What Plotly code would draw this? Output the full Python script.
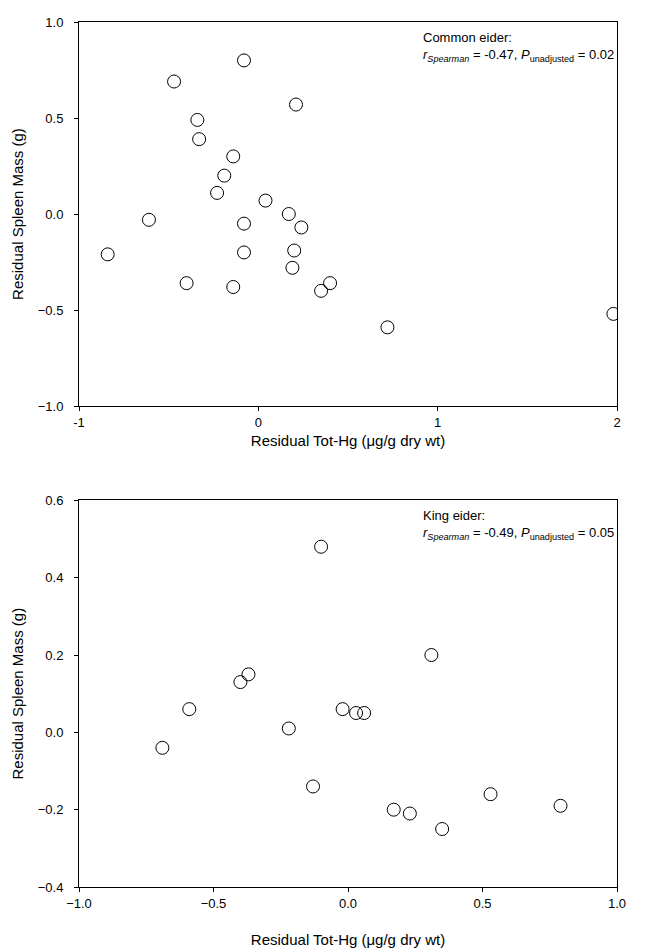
import plotly.graph_objects as go

# Common eider (top panel)
common_hg = [-0.84, -0.61, -0.47, -0.40, -0.34, -0.33, -0.19, -0.23, -0.14, -0.14, -0.08,
             -0.08, -0.08, 0.04, 0.17, 0.24, 0.21, 0.20, 0.19, 0.35, 0.40, 0.72, 1.98]
common_spleen = [-0.21, -0.03, 0.69, -0.36, 0.49, 0.39, 0.20, 0.11, 0.30, -0.38, 0.80,
                 -0.05, -0.20, 0.07, 0.00, -0.07, 0.57, -0.19, -0.28, -0.40, -0.36, -0.59, -0.52]

# King eider (bottom panel)
king_hg = [-0.69, -0.59, -0.40, -0.37, -0.22, -0.13, -0.10, -0.02, 0.03, 0.06,
           0.17, 0.23, 0.31, 0.35, 0.53, 0.79]
king_spleen = [-0.04, 0.06, 0.13, 0.15, 0.01, -0.14, 0.48, 0.06, 0.05, 0.05,
               -0.20, -0.21, 0.20, -0.25, -0.16, -0.19]

top_xticks = [-1, 0, 1, 2]
top_yticks = [-1.0, -0.5, 0.0, 0.5, 1.0]
bot_xticks = [-1.0, -0.5, 0.0, 0.5, 1.0]
bot_yticks = [-0.4, -0.2, 0.0, 0.2, 0.4, 0.6]

x_title = "Residual Tot-Hg (μg/g dry wt)"
y_title = "Residual Spleen Mass (g)"

FONT = "Liberation Sans, Arial, sans-serif"

fig = go.Figure()
marker = dict(symbol="circle-open", size=13, color="black", line=dict(width=1, color="black"))
fig.add_trace(go.Scatter(x=common_hg, y=common_spleen, mode="markers", marker=marker,
                         xaxis="x", yaxis="y", showlegend=False))
fig.add_trace(go.Scatter(x=king_hg, y=king_spleen, mode="markers", marker=marker,
                         xaxis="x2", yaxis="y2", showlegend=False))

axis_common = dict(showline=True, linecolor="black", linewidth=1, mirror=True,
                   ticks="outside", ticklen=4, tickcolor="black", showgrid=False,
                   zeroline=False, tickfont=dict(size=13, color="black", family=FONT),
                   title_font=dict(size=15, color="black", family=FONT))

fig.update_layout(
    width=645, height=952,
    margin=dict(l=71, r=36, t=7, b=73),
    paper_bgcolor="white", plot_bgcolor="white",
    font=dict(family=FONT, color="black"),
    xaxis=dict(axis_common, range=[-1, 2], tickvals=top_xticks, ticktext=[str(v) for v in top_xticks],
               anchor="y", domain=[0, 1], title=dict(text=x_title, standoff=6)),
    yaxis=dict(axis_common, range=[-1, 1], tickvals=top_yticks, tickformat=".1f",
               ticklabelstandoff=8,
               anchor="x", domain=[0.556, 1.0], title=dict(text=y_title, standoff=10)),
    xaxis2=dict(axis_common, range=[-1, 1], tickvals=bot_xticks, tickformat=".1f",
                anchor="y2", domain=[0, 1], title=dict(text=x_title, standoff=24)),
    yaxis2=dict(axis_common, range=[-0.4, 0.6], tickvals=bot_yticks, tickformat=".1f",
                ticklabelstandoff=8,
                anchor="x2", domain=[0, 0.447], title=dict(text=y_title, standoff=10)),
)

ann_font = dict(size=13, color="black", family=FONT)
fig.add_annotation(xref="x domain", yref="y domain", x=0.998, y=0.985, xanchor="right", yanchor="top",
                   align="left", showarrow=False, font=ann_font,
                   text="Common eider:<br><i>r</i><sub><i>Spearman</i></sub> = -0.47, <i>P</i><sub>unadjusted</sub> = 0.02")
fig.add_annotation(xref="x2 domain", yref="y2 domain", x=0.998, y=0.985, xanchor="right", yanchor="top",
                   align="left", showarrow=False, font=ann_font,
                   text="King eider:<br><i>r</i><sub><i>Spearman</i></sub> = -0.49, <i>P</i><sub>unadjusted</sub> = 0.05")

fig.write_html("out.html")
